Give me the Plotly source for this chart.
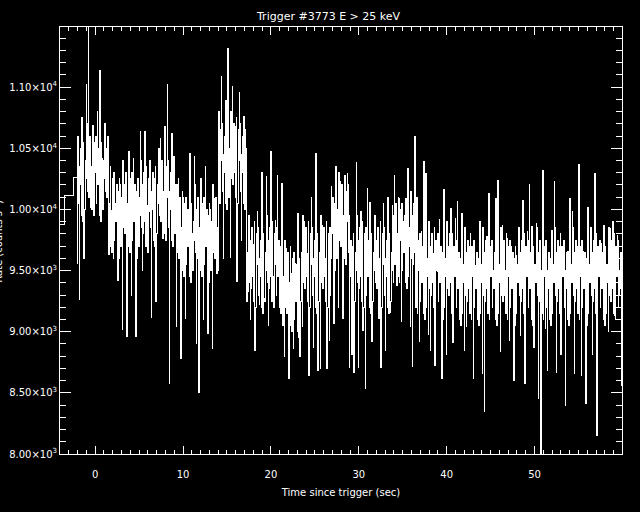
import plotly.graph_objects as go

# ---- data ----
coarse_start = [-4.0, -3.47, -2.50]           # wide pre-trigger bins (s)
coarse_rate = [9877, 10111, 10262]            # counts / s

fine_start = -2.048                           # first fine bin (s)
fine_width = 0.064                            # fine bin width (s)

# t = -2.0 .. 6.1 s
rate_a = [9560, 10600, 10050, 10350, 9260, 10200, 10500, 9950, 10750, 10450, 9900, 10550,
          9600, 10000, 10400, 10250, 11020, 10700, 10150, 10500, 11500, 10100, 10600, 10200,
          10020, 10350, 10000, 10650, 10690, 9950, 10550, 10300, 10310, 10600, 10050, 10350,
          10800, 10200, 10500, 9950, 11140, 10450, 9900, 10550, 10420, 10000, 10400, 10250,
          10250, 10700, 10150, 10500, 10380, 10100, 10600, 10200,
          9630, 10050, 9700, 10350, 9990, 9650, 10250, 10000, 9600, 10300, 9750, 10050,
          9950, 9900, 10200, 9650, 9420, 10150, 9600, 10250, 10200, 9700, 10100, 9950,
          9020, 10400, 9850, 10200, 10000, 9800, 10300, 9900, 8960, 10050, 9700, 10350,
          10470, 9650, 10250, 10000, 9300, 10300, 9750, 10050, 10420, 9900, 10200, 9650,
          8960, 10150, 9600, 10250, 10250, 9700, 10100, 9950, 10640, 10400, 9850, 10200,
          9500, 9800, 10300, 9900, 10640, 10050, 9700, 10350, 10030, 9650, 10250, 10000]
# t = 6.1 .. 23.3 s
rate_b = [9980, 10400, 9850, 10150, 9120, 10000, 10300, 9750, 10225, 10250, 9700, 10350,
          9245, 9800, 10200, 10050, 10460, 10500, 9950, 10300, 10580, 9900, 10400, 10000,
          9760, 10150, 9800, 10450, 10675, 9750, 10350, 10100, 11020, 10400, 9850, 10150,
          8575, 10000, 10300, 9750, 10620, 10250, 9700, 10350, 10430, 9800, 10200, 10050,
          9040, 10200, 9650, 10000, 10250, 9600, 10100, 9700, 8780, 9850, 9500, 10150,
          10100, 9450, 10050, 9800, 9110, 10100, 9550, 9850, 10000, 9700, 10000, 9450,
          10460, 9950, 9400, 10050, 9800, 9500, 9900, 9750, 10430, 10200, 9650, 10000,
          8905, 9600, 10100, 9700, 8500, 9850, 9500, 10150, 10250, 9450, 10050, 9800,
          9100, 10100, 9550, 9850, 10350, 9700, 10000, 9450, 8985, 9950, 9400, 10050,
          10000, 9500, 9900, 9750, 8860, 10200, 9650, 10000, 10090, 9600, 10100, 9700,
          9475, 9850, 9500, 10150,
          10800, 10050, 10650, 10400, 11085, 10700, 10150, 10450, 9600, 10300, 10600, 10050,
          10895, 10550, 10000, 10650, 11320, 10100, 10500, 10350, 9607, 10800, 10250, 10600,
          11005, 10200, 10700, 10300, 10680, 10450, 10100, 10750, 9410, 10050, 10650, 10400,
          10960, 10700, 10150, 10450, 9750, 10300, 10600, 10050, 10760, 10550, 10000, 10650,
          10500, 9250, 9650, 9500, 9325, 9950, 9400, 9750, 9100, 9350, 9850, 9450,
          9710, 9600, 9250, 9900, 8850, 9200, 9800, 9550, 9980, 9850, 9300, 9600,
          9220, 9450, 9750, 9200, 10300, 9700, 9150, 9800, 9270, 9250, 9650, 9500,
          10270, 9950, 9400, 9750, 9050, 9350, 9850, 9450, 10470, 9600, 9250, 9900,
          9450, 9200, 9800, 9550, 9910, 9850, 9300, 9600, 10280, 9450, 9750, 9200,
          9200, 9700, 9150, 9800,
          10210, 9050, 9450, 9300, 8795, 9750, 9200, 9550, 9680, 9150, 9650, 9250,
          8615, 9400, 9050, 9700, 9475, 9000, 9600, 9350, 8860, 9650, 9100, 9400,
          9560, 9250, 9550, 9000, 9970, 9500, 8950, 9600]
# t = 23.3 .. 40.4 s
rate_c = [8795, 9250, 9650, 9500, 9040, 9950, 9400, 9750, 9900, 9350, 9850, 9450,
          9640, 9600, 9250, 9900, 8645, 9200, 9800, 9550, 10100, 9850, 9300, 9600,
          8875, 9450, 9750, 9200, 10460, 9700, 9150, 9800, 8685, 9250, 9650, 9500,
          8700, 9950, 9400, 9750, 9870, 9350, 9850, 9450, 9490, 9600, 9250, 9900,
          8700, 9200, 9800, 9550, 8930, 9850, 9300, 9600,
          10185, 9800, 10100, 9550, 9070, 10050, 9500, 10150, 10350, 9600, 10000, 9850,
          9200, 10300, 9750, 10100, 10225, 9700, 10200, 9800, 9110, 9950, 9600, 10250,
          10280, 9550, 10150, 9900, 10295, 10200, 9650, 9950,
          8710, 9450, 9750, 9200, 8810, 9700, 9150, 9800, 8670, 9250, 9650, 9500,
          10380, 9950, 9400, 9750, 8710, 9350, 9850, 9450, 9980, 9600, 9250, 9900,
          9010, 9200, 9800, 9550, 8535, 9850, 9300, 9600, 10170, 9450, 9750, 9200,
          10060, 9700, 9150, 9800, 8920, 9250, 9650, 9500, 9820, 9950, 9400, 9750,
          9640, 9350, 9850, 9450, 9110, 9600, 9250, 9900, 8710, 9200, 9800, 9550,
          10050, 9850, 9300, 9600, 8850, 9450, 9750, 9200, 10100, 9700, 9150, 9800,
          9160, 9250, 9650, 9500, 10035, 9950, 9400, 9750,
          10280, 9550, 10050, 9650, 9380, 9800, 9450, 10100, 10090, 9400, 10000, 9750,
          9080, 10050, 9500, 9800, 9900, 9650, 9950, 9400, 10090, 9900, 9350, 10000,
          10335, 9450, 9850, 9700, 9040, 10150, 9600, 9950, 8715, 9550, 10050, 9650,
          10595, 9550, 9200, 9850, 10100, 9150, 9750, 9500, 8920, 9800, 9250, 9550,
          9820, 9400, 9700, 9150, 10390, 9650, 9100, 9750, 10295, 9200, 9600, 9450,
          8980, 9900, 9350, 9700, 8850, 9300, 9800, 9400, 9640, 9550, 9200, 9850,
          8725, 9150, 9750, 9500, 9490, 9800, 9250, 9550, 9915, 9400, 9700, 9150,
          8615, 9650, 9100, 9750, 10160, 9200, 9600, 9450, 8810, 9900, 9350, 9700,
          9600, 9300, 9800, 9400]
# t = 40.4 .. 60.1 s
rate_d = [10010, 9500, 9150, 9800, 8915, 9100, 9700, 9450, 9925, 9750, 9200, 9500,
          10065, 9350, 9650, 9100, 9135, 9600, 9050, 9700, 9970, 9150, 9550, 9400,
          8850, 9850, 9300, 9650, 9040, 9250, 9750, 9350, 9695, 9500, 9150, 9800,
          9680, 9100, 9700, 9450, 8615, 9750, 9200, 9500, 9545, 9350, 9650, 9100,
          9300, 9600, 9050, 9700, 9900, 9150, 9550, 9400, 8660, 9850, 9300, 9650,
          8345, 9250, 9750, 9350, 9775, 9500, 9150, 9800, 10130, 9100, 9700, 9450,
          9735, 9750, 9200, 9500, 9350, 9350, 9650, 9100, 10090, 9600, 9050, 9700,
          10240, 9150, 9550, 9400, 8835, 9850, 9300, 9650, 9870, 9250, 9750, 9350,
          9300, 9500, 9150, 9800, 9760, 9100, 9700, 9450, 8930, 9750, 9200, 9500,
          9695, 9350, 9650, 9100, 8605, 9600, 9050, 9700, 9625, 9150, 9550, 9400,
          9450, 9850, 9300, 9650, 8970, 9250, 9750, 9350, 10075, 9500, 9150, 9800,
          8575, 9100, 9700, 9450, 9820, 9750, 9200, 9500, 10200, 9350, 9650, 9100,
          9860, 9600, 9050, 9700, 8875, 9150, 9550, 9400, 9885, 9850, 9300, 9650,
          8455, 9250, 9750, 9350, 7990, 9500, 9150, 9800, 10320, 9100, 9700, 9450,
          9025, 9750, 9200, 9500, 8685, 9350, 9650, 9100, 9500, 9600, 9050, 9700,
          9830, 9150, 9550, 9400, 10225, 9850, 9300, 9650, 8670, 9250, 9750, 9350,
          9695, 9500, 9150, 9800, 8810, 9100, 9700, 9450, 9600, 9750, 9200, 9500,
          8400, 9350, 9650, 9100, 9655, 9600, 9050, 9700, 10090, 9150, 9550, 9400,
          9980, 9850, 9300, 9650, 8660, 9250, 9750, 9350, 9700, 9500, 9150, 9800,
          10365, 9100, 9700, 9450, 8645, 9750, 9200, 9500, 9655, 9350, 9650, 9100,
          8410, 9600, 9050, 9700, 10020, 9150, 9550, 9400, 9845, 9850, 9300, 9650,
          8810, 9250, 9750, 9350, 10295, 9500, 9150, 9800, 8150, 9100, 9700, 9450,
          9530, 9750, 9200, 9500, 9720, 9350, 9650, 9100, 9870, 9600, 9050, 9700,
          9545, 9150, 9550, 9400, 9000, 9850, 9300, 9650, 9845, 9250, 9750, 9350,
          9900, 9500, 9150, 9800, 9135, 9100, 9700, 9450, 9790, 9750, 9200, 9500,
          9300, 9350, 9650, 9100, 8560, 9600, 9050, 9700]

y_tickvals = [8000, 8500, 9000, 9500, 10000, 10500, 11000]
y_ticktext = ["8.00×10<sup>3</sup>", "8.50×10<sup>3</sup>", "9.00×10<sup>3</sup>",
              "9.50×10<sup>3</sup>", "1.00×10<sup>4</sup>", "1.05×10<sup>4</sup>",
              "1.10×10<sup>4</sup>"]

title_text = "Trigger #3773 E > 25 keV"
x_title = "Time since trigger (sec)"
y_title = "Rate (counts s<sup>-1</sup>)"

# ---- build step series ----
fine_rate = rate_a + rate_b + rate_c + rate_d
times = coarse_start + [fine_start + i * fine_width for i in range(len(fine_rate))]
rates = coarse_rate + fine_rate
times_step = times + [fine_start + len(fine_rate) * fine_width]
rates_step = rates + [rates[-1]]

FONT = "DejaVu Sans"
fig = go.Figure()
fig.add_trace(go.Scatter(x=times_step, y=rates_step, mode="lines",
                         line=dict(color="white", width=1, shape="hv"),
                         hoverinfo="skip", showlegend=False))

fig.update_layout(
    width=640, height=512,
    paper_bgcolor="black", plot_bgcolor="black",
    margin=dict(l=60, r=18, t=27, b=58),
    font=dict(family=FONT, color="white", size=10),
    title=dict(text=title_text, x=257 / 640, xanchor="left", y=1 - 15.7 / 512,
               yanchor="middle", pad=dict(l=0, r=0, t=0, b=0),
               font=dict(size=11, color="white", family=FONT)),
    xaxis=dict(range=[-4.0, 59.95], showline=True, linecolor="white", linewidth=1,
               mirror="ticks", ticks="inside", ticklen=8, tickwidth=1, tickcolor="white",
               tick0=0, dtick=10, showgrid=False, zeroline=False, automargin=False,
               minor=dict(dtick=1, ticks="inside", ticklen=4, tickcolor="white",
                          tickwidth=1, showgrid=False),
               tickfont=dict(size=10, color="white", family=FONT),
               ticklabelstandoff=11,
               title=dict(text=x_title, standoff=9,
                          font=dict(size=10, color="white", family=FONT))),
    yaxis=dict(range=[8000, 11492], showline=True, linecolor="white", linewidth=1,
               mirror="ticks", ticks="inside", ticklen=11, tickwidth=1, tickcolor="white",
               tickvals=y_tickvals, ticktext=y_ticktext, showgrid=False, zeroline=False,
               automargin=False,
               minor=dict(dtick=100, tick0=8000, ticks="inside", ticklen=6,
                          tickcolor="white", tickwidth=1, showgrid=False),
               tickfont=dict(size=10, color="white", family=FONT)),
)

fig.add_annotation(text=y_title, textangle=-90, xref="paper", yref="paper",
                   x=-54 / 562, y=0.497, xanchor="right", yanchor="middle",
                   showarrow=False, font=dict(size=10, color="white", family=FONT))

fig.write_html("out.html", config={"displayModeBar": False},
               post_script="document.body.style.margin='0';"
                           "document.body.style.padding='0';"
                           "document.body.style.background='black';"
                           "document.querySelectorAll('.scatterlayer path')"
                           ".forEach(function(p){p.style.shapeRendering='crispEdges';});")
